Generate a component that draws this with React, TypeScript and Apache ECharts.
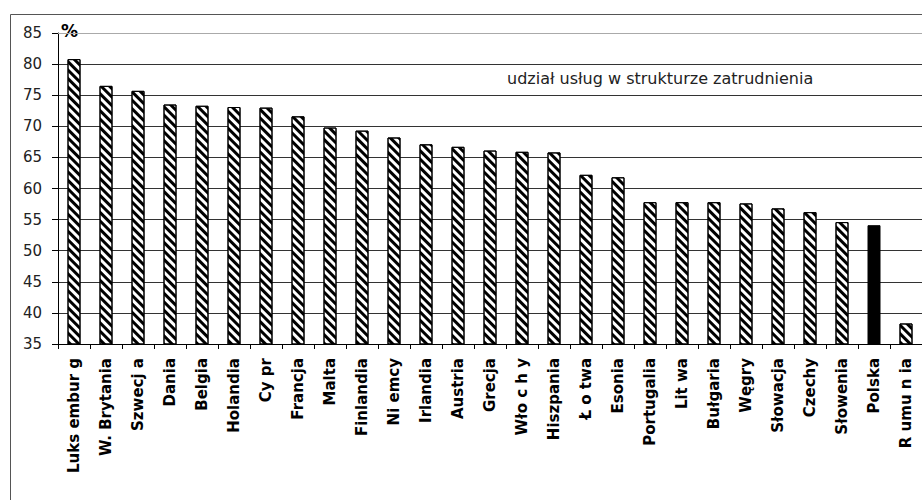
import React, { useEffect, useRef } from "react";
import * as echarts from "echarts";

const categories = [
  "Luks embur g", "W. Brytania", "Szwecj a", "Dania", "Belgia", "Holandia", "Cy pr",
  "Francja", "Malta", "Finlandia", "Ni emcy", "Irlandia", "Austria", "Grecja",
  "Wło c h y", "Hiszpania", "Ł o twa", "Esonia", "Portugalia", "Lit wa", "Bułgaria",
  "Węgry", "Słowacja", "Czechy", "Słowenia", "Polska", "R umu n ia",
];
const values = [
  80.8, 76.5, 75.7, 73.5, 73.3, 73.1, 73.0, 71.6, 69.8, 69.3, 68.2, 67.1, 66.7, 66.1,
  65.9, 65.8, 62.2, 61.8, 57.8, 57.8, 57.8, 57.6, 56.8, 56.2, 54.6, 54.1, 38.3,
];
const highlighted = "Polska";
const yMin = 35;
const yMax = 85;
const yStep = 5;
const titleText = "udział usług w strukturze zatrudnienia";
const unitText = "%";

export default function App() {
  const ref = useRef<HTMLDivElement>(null);
  useEffect(() => {
    document.body.style.margin = "0";
    document.body.style.overflow = "hidden";
    if (!ref.current) return;
    const chart = echarts.init(ref.current, null, { renderer: "svg" });
    const hatch = {
      symbol: "rect",
      symbolSize: 1,
      dashArrayX: [1, 0],
      dashArrayY: [2.5, 2.5],
      rotation: Math.PI / 4,
      color: "#000",
      backgroundColor: "#fff",
    };
    chart.setOption({
      animation: false,
      backgroundColor: "#fff",
      grid: { left: 58, right: 8, top: 33, bottom: 156, containLabel: false },
      xAxis: {
        type: "category",
        data: categories,
        splitLine: { show: false },
        axisLine: { lineStyle: { color: "#000", width: 1 } },
        axisTick: { show: true, length: 5, lineStyle: { color: "#000" } },
        axisLabel: {
          rotate: 90,
          margin: 14,
          interval: 0,
          fontFamily: "DejaVu Sans",
          fontWeight: "bold",
          fontSize: 15,
          color: "#000",
        },
      },
      yAxis: {
        type: "value",
        min: yMin,
        max: yMax,
        interval: yStep,
        axisLine: { show: true, lineStyle: { color: "#000", width: 1 } },
        axisTick: { show: true, length: 6, lineStyle: { color: "#000" } },
        axisLabel: {
          margin: 16,
          fontFamily: "DejaVu Sans",
          fontSize: 15,
          color: "#222",
        },
        splitLine: { show: true, showMaxLine: false, lineStyle: { color: "#333", width: 1 } },
      },
      series: [
        {
          type: "bar",
          barWidth: 13,
          data: values.map((v, i) =>
            categories[i] === highlighted
              ? { value: v, itemStyle: { color: "#000", borderColor: "#000", borderWidth: 1 } }
              : { value: v, itemStyle: { color: "#fff", borderColor: "#000", borderWidth: 1, decal: hatch } }
          ),
          markLine: {
            silent: true,
            symbol: ["none", "none"],
            label: { show: false },
            lineStyle: { color: "#aaa", width: 1, type: "solid" },
            data: [{ yAxis: yMax }],
          },
        },
      ],
      graphic: [
        {
          type: "line",
          z: -1,
          shape: { x1: 10.5, y1: 14.5, x2: 10.5, y2: 520 },
          style: { stroke: "#555", lineWidth: 1 },
        },
        {
          type: "line",
          z: -1,
          shape: { x1: 10.5, y1: 14.5, x2: 940, y2: 14.5 },
          style: { stroke: "#555", lineWidth: 1 },
        },
        {
          type: "text",
          left: 507,
          top: 70,
          style: { text: titleText, font: "16px 'DejaVu Sans'", fill: "#222" },
        },
        {
          type: "text",
          left: 61,
          top: 22,
          style: { text: unitText, font: "bold 17px 'DejaVu Sans'", fill: "#000" },
        },
      ],
    });
    return () => chart.dispose();
  }, []);
  return (
    <div
      ref={ref}
      style={{ position: "fixed", left: 0, top: 0, width: 930, height: 500, background: "#fff" }}
    />
  );
}
